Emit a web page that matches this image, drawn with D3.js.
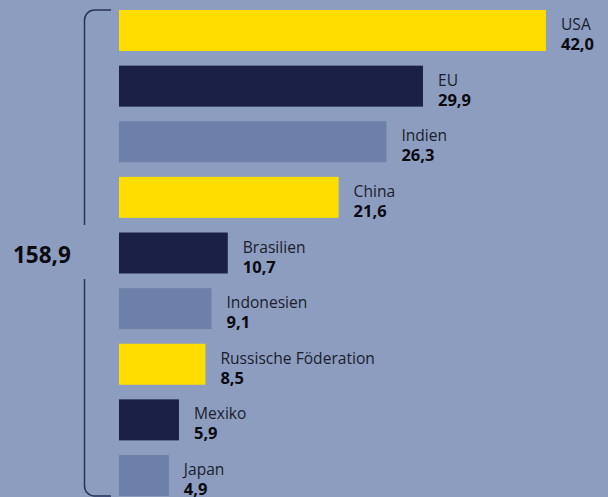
<!DOCTYPE html>
<html>
<head>
<meta charset="utf-8">
<script src="https://cdn.jsdelivr.net/npm/d3@7"></script>
<style>
  body { margin: 0; background: #8c9dbf; }
  svg { display: block; font-family: "Open Sans", "Noto Sans", sans-serif; }
</style>
</head>
<body>
<div id="chart"></div>
<script>
const countries = ["USA", "EU", "Indien", "China", "Brasilien", "Indonesien", "Russische Föderation", "Mexiko", "Japan"];
const values = [42.0, 29.9, 26.3, 21.6, 10.7, 9.1, 8.5, 5.9, 4.9];
const barColors = ["#ffdd00", "#1a2046", "#6d80aa", "#ffdd00", "#1a2046", "#6d80aa", "#ffdd00", "#1a2046", "#6d80aa"];
const totalLabel = "158,9";

const width = 608, height = 497;
const fmt = v => v.toFixed(1).replace(".", ",");

const svg = d3.select("#chart").append("svg")
  .attr("width", width)
  .attr("height", height);

svg.append("rect").attr("width", width).attr("height", height).attr("fill", "#8c9dbf");

const x = d3.scaleLinear().domain([0, 42]).range([119, 546]);
const y = d3.scaleBand().domain(countries).range([10, 496]).paddingInner(0.263).paddingOuter(0);

const data = countries.map((c, i) => ({ name: c, value: values[i], color: barColors[i] }));

// bars
svg.selectAll("rect.bar")
  .data(data)
  .enter()
  .append("rect")
  .attr("class", "bar")
  .attr("x", x(0))
  .attr("y", d => y(d.name))
  .attr("width", d => x(d.value) - x(0))
  .attr("height", y.bandwidth())
  .attr("fill", d => d.color);

// name labels
svg.selectAll("text.name")
  .data(data)
  .enter()
  .append("text")
  .attr("class", "name")
  .attr("x", d => x(d.value) + 15)
  .attr("y", d => y(d.name) + 20)
  .attr("font-size", 15.6)
  .attr("fill", "#1b1d2c")
  .text(d => d.name);

// value labels
svg.selectAll("text.val")
  .data(data)
  .enter()
  .append("text")
  .attr("class", "val")
  .attr("x", d => x(d.value) + 15)
  .attr("y", d => y(d.name) + 40)
  .attr("font-size", 16.5)
  .attr("font-weight", "bold")
  .attr("fill", "#0a0a10")
  .text(d => fmt(d.value));

// bracket
const bTop = y(countries[0]);
const bBottom = y(countries[countries.length - 1]) + y.bandwidth();
const bx = 84.5, r = 10, ex = 111;
const gapTop = 225, gapBot = 279;

svg.append("path")
  .attr("d", `M${ex},${bTop} L${bx + r},${bTop} A${r},${r} 0 0 0 ${bx},${bTop + r} L${bx},${gapTop}`)
  .attr("fill", "none")
  .attr("stroke", "#27335e")
  .attr("stroke-width", 1.5);

svg.append("path")
  .attr("d", `M${bx},${gapBot} L${bx},${bBottom - r} A${r},${r} 0 0 0 ${bx + r},${bBottom} L${ex},${bBottom}`)
  .attr("fill", "none")
  .attr("stroke", "#27335e")
  .attr("stroke-width", 1.5);

svg.append("text")
  .attr("x", 13)
  .attr("y", 263)
  .attr("font-size", 22.5)
  .attr("font-weight", "bold")
  .attr("fill", "#0a0a10")
  .text(totalLabel);
</script>
</body>
</html>
